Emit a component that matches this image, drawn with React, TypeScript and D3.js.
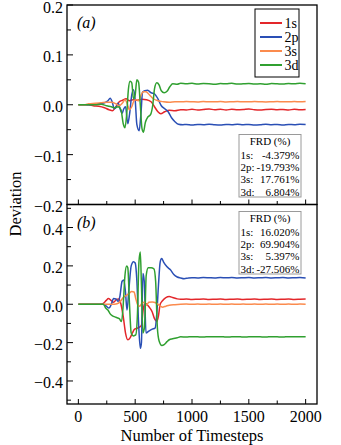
import React from "react";
import * as d3 from "d3";

type Pt = [number, number];

const orbitals = ["1s", "2p", "3s", "3d"];
const colors = ["#e3262a", "#2a4fb5", "#fb8b4e", "#30a030"];

const frdLabels = ["1s:", "2p:", "3s:", "3d:"];
const frdA = ["-4.379%", "-19.793%", "17.761%", "6.804%"];
const frdB = ["16.020%", "69.904%", "5.397%", "-27.506%"];

const xTicksMajor = [0, 500, 1000, 1500, 2000];
const xTicksMinor = [250, 750, 1250, 1750];
const yTicksA = [-0.2, -0.1, 0, 0.1, 0.2];
const yTicksAMinor = [-0.15, -0.05, 0.05, 0.15];
const yTicksB = [-0.4, -0.2, 0, 0.2, 0.4];
const yTicksBMinor = [-0.5, -0.3, -0.1, 0.1, 0.3, 0.5];

const a1s: Pt[] = [
  [0, 0], [90, 0], [130, -0.002], [180, -0.003], [230, -0.006], [270, -0.01], [300, -0.012], [330, -0.004], [360, 0.006], [390, 0.009], [420, 0.012], [450, 0.008], [480, 0.01], [520, 0.009], [560, 0.011], [600, 0.01], [640, 0.006], [670, -0.004], [700, -0.014], [725, -0.018], [760, -0.014], [800, -0.011], [850, -0.012], [900, -0.01],
  [950, -0.0105], [1000, -0.009], [1050, -0.0105], [1100, -0.0095], [1150, -0.0085], [1200, -0.01], [1250, -0.009], [1300, -0.0105], [1350, -0.009], [1400, -0.01], [1450, -0.0095], [1500, -0.0085], [1550, -0.01], [1600, -0.0105], [1650, -0.0095], [1700, -0.009], [1750, -0.01], [1800, -0.0095], [1850, -0.0105], [1900, -0.009], [1950, -0.01], [2000, -0.0095],
];
const a2p: Pt[] = [
  [0, 0], [90, 0], [130, 0.001], [180, 0.002], [230, 0.004], [260, 0.008], [280, 0.013], [300, 0.004], [315, -0.008], [335, -0.004], [350, 0.003], [370, -0.01], [385, -0.017], [400, -0.008], [415, -0.004], [435, -0.038], [450, -0.02], [470, 0.02], [485, 0.03], [500, 0.01], [515, -0.04], [535, -0.052], [550, -0.02], [565, 0.025], [585, 0.028], [610, 0.029], [640, 0.024], [670, 0.022], [700, 0.012], [730, -0.002], [760, -0.008], [790, -0.014], [820, -0.026], [850, -0.034], [880, -0.039], [920, -0.04],
  [950, -0.0395], [1000, -0.0405], [1050, -0.0395], [1100, -0.04], [1150, -0.039], [1200, -0.04], [1250, -0.0405], [1300, -0.0395], [1350, -0.04], [1400, -0.039], [1450, -0.04], [1500, -0.0395], [1550, -0.0405], [1600, -0.04], [1650, -0.039], [1700, -0.04], [1750, -0.0395], [1800, -0.0405], [1850, -0.0395], [1900, -0.04], [1950, -0.039], [2000, -0.0395],
];
const a3s: Pt[] = [
  [0, 0], [60, 0], [90, 0.002], [150, 0.003], [200, 0.004], [250, 0.005], [290, 0.005], [330, 0.002], [360, -0.002], [390, 0.004], [410, 0.01], [430, 0.002], [450, -0.01], [470, -0.004], [490, 0.008], [510, 0.01], [530, 0.008], [550, 0.018], [570, 0.026], [595, 0.026], [625, 0.02], [660, 0.012], [700, 0.008], [750, 0.006], [800, 0.005], [850, 0.006], [900, 0.006],
  [950, 0.0065], [1000, 0.006], [1050, 0.0055], [1100, 0.0065], [1150, 0.006], [1200, 0.006], [1250, 0.0065], [1300, 0.0055], [1350, 0.006], [1400, 0.0065], [1450, 0.006], [1500, 0.006], [1550, 0.0065], [1600, 0.006], [1650, 0.0055], [1700, 0.006], [1750, 0.0065], [1800, 0.006], [1850, 0.006], [1900, 0.0065], [1950, 0.006], [2000, 0.0065],
];
const a3d: Pt[] = [
  [0, 0], [90, 0], [150, 0], [200, 0.001], [250, -0.002], [290, -0.004], [320, -0.006], [350, -0.004], [375, -0.01], [395, -0.038], [410, -0.046], [425, -0.02], [440, 0.03], [455, 0.047], [470, 0.044], [485, 0.012], [500, 0.02], [515, 0.05], [530, 0.045], [545, 0], [560, -0.048], [572, -0.055], [590, -0.035], [610, -0.025], [635, -0.02], [655, 0], [670, 0.032], [690, 0.044], [710, 0.04], [730, 0.028], [755, 0.024], [780, 0.027], [805, 0.036], [830, 0.042], [870, 0.041], [900, 0.043],
  [950, 0.042], [1000, 0.043], [1050, 0.0415], [1100, 0.0425], [1150, 0.042], [1200, 0.041], [1250, 0.0425], [1300, 0.042], [1350, 0.043], [1400, 0.0415], [1450, 0.042], [1500, 0.0425], [1550, 0.0415], [1600, 0.042], [1650, 0.041], [1700, 0.0425], [1750, 0.042], [1800, 0.0415], [1850, 0.0425], [1900, 0.042], [1950, 0.043], [2000, 0.042],
];

const b1s: Pt[] = [
  [0, 0], [200, 0], [220, 0.005], [245, 0.02], [265, 0.03], [285, 0.022], [310, 0.01], [335, 0.025], [355, 0.028], [375, 0], [395, -0.065], [415, -0.15], [435, -0.185], [455, -0.175], [475, -0.15], [495, -0.13], [515, -0.125], [535, -0.12], [555, -0.11], [570, -0.03], [585, 0.005], [610, -0.005], [630, -0.02], [650, -0.04], [670, -0.075], [690, -0.09], [705, -0.06], [720, 0], [740, 0.018], [770, 0.035], [800, 0.04], [830, 0.035], [870, 0.028], [900, 0.026],
  [950, 0.027], [1000, 0.025], [1050, 0.026], [1100, 0.027], [1150, 0.025], [1200, 0.026], [1250, 0.027], [1300, 0.025], [1350, 0.026], [1400, 0.027], [1450, 0.025], [1500, 0.026], [1550, 0.027], [1600, 0.025], [1650, 0.026], [1700, 0.027], [1750, 0.025], [1800, 0.026], [1850, 0.027], [1900, 0.025], [1950, 0.026], [2000, 0.027],
];
const b2p: Pt[] = [
  [0, 0], [220, 0], [245, -0.01], [270, -0.02], [290, 0], [310, 0.03], [330, 0.028], [350, 0.015], [365, 0.04], [385, 0.12], [400, 0.127], [415, 0.06], [428, -0.03], [445, 0.08], [465, 0.2], [485, 0.222], [500, 0.215], [515, 0.12], [530, -0.1], [545, -0.23], [555, -0.2], [568, 0.16], [580, 0.12], [595, -0.15], [620, -0.14], [650, -0.13], [675, -0.125], [690, -0.05], [705, 0.1], [720, 0.22], [733, 0.238], [750, 0.22], [780, 0.195], [810, 0.18], [840, 0.155], [870, 0.142], [900, 0.137], [930, 0.133], [970, 0.137],
  [1000, 0.138], [1050, 0.137], [1100, 0.139], [1150, 0.138], [1200, 0.137], [1250, 0.139], [1300, 0.138], [1350, 0.139], [1400, 0.137], [1450, 0.138], [1500, 0.139], [1550, 0.137], [1600, 0.138], [1650, 0.139], [1700, 0.137], [1750, 0.138], [1800, 0.139], [1850, 0.137], [1900, 0.138], [1950, 0.139], [2000, 0.137],
];
const b3s: Pt[] = [
  [0, 0], [300, 0], [340, 0.003], [370, 0.015], [395, 0.035], [420, 0.045], [445, 0.055], [470, 0.066], [490, 0.064], [505, 0.03], [520, 0], [540, -0.01], [560, 0.005], [580, 0.01], [600, -0.005], [620, 0.01], [650, 0.012], [680, 0.008], [710, -0.005], [740, -0.015], [770, -0.01], [800, -0.005], [850, -0.002], [900, 0],
  [950, 0.001], [1000, 0], [1050, 0.001], [1100, 0], [1150, 0.001], [1200, 0], [1250, 0.001], [1300, 0], [1350, 0.001], [1400, 0], [1450, 0.001], [1500, 0], [1550, 0.001], [1600, 0], [1650, 0.001], [1700, 0], [1750, 0.001], [1800, 0], [1850, 0.001], [1900, 0], [1950, 0.001], [2000, 0],
];
const b3d: Pt[] = [
  [0, 0], [220, 0], [240, -0.02], [260, -0.03], [280, -0.05], [300, -0.06], [330, -0.068], [360, -0.075], [380, -0.09], [395, 0], [410, 0.15], [425, 0.2], [435, 0.19], [450, 0], [465, -0.15], [485, -0.165], [505, -0.16], [520, -0.05], [533, 0.22], [545, 0.272], [555, 0.1], [568, -0.15], [582, -0.12], [597, 0.15], [615, 0.19], [640, 0.19], [665, 0.185], [680, 0.12], [695, -0.12], [710, -0.19], [735, -0.215], [755, -0.21], [780, -0.195], [800, -0.185], [830, -0.18], [870, -0.175], [900, -0.17],
  [950, -0.171], [1000, -0.169], [1050, -0.17], [1100, -0.171], [1150, -0.169], [1200, -0.17], [1250, -0.169], [1300, -0.171], [1350, -0.17], [1400, -0.169], [1450, -0.171], [1500, -0.17], [1550, -0.169], [1600, -0.17], [1650, -0.171], [1700, -0.169], [1750, -0.17], [1800, -0.171], [1850, -0.169], [1900, -0.17], [1950, -0.169], [2000, -0.17],
];

const seriesA = [a1s, a2p, a3s, a3d];
const seriesB = [b1s, b2p, b3s, b3d];

const FONT = "'Liberation Serif', 'Times New Roman', serif";
const L = 67, R = 317;
const TOP_A = 5, MID = 204.5, BOT_B = 404;

const fmt = (v: number) => (Math.abs(v) < 1e-9 ? "0.0" : d3.format(".1f")(v));

function Panel(props: {
  top: number; bottom: number; domain: [number, number];
  major: number[]; minor: number[]; series: Pt[][]; label: string;
}) {
  const { top, bottom, domain, major, minor, series, label } = props;
  const x = d3.scaleLinear().domain([-100, 2100]).range([L, R]);
  const y = d3.scaleLinear().domain(domain).range([bottom, top]);
  const line = d3.line<Pt>().x((d) => x(d[0])).y((d) => y(d[1])).curve(d3.curveMonotoneX);
  const clipId = "clip" + label.replace(/[()]/g, "");
  return (
    <g>
      <defs>
        <clipPath id={clipId}>
          <rect x={L} y={top} width={R - L} height={bottom - top} />
        </clipPath>
      </defs>
      <g clipPath={`url(#${clipId})`}>
        {series.map((s, i) => (
          <path key={i} d={line(s) || ""} fill="none" stroke={colors[i]} strokeWidth={1.5} strokeLinejoin="round" />
        ))}
      </g>
      {major.map((v) => (
        <g key={"ym" + v}>
          <line x1={L} x2={L + 6} y1={y(v)} y2={y(v)} stroke="#000" strokeWidth={1} />
          <text x={L - 4} y={Math.max(y(v) + 2, 8)} dy="0.33em" textAnchor="end" fontSize={16} fontFamily={FONT}>{fmt(v)}</text>
        </g>
      ))}
      {minor.map((v) => (
        <line key={"yn" + v} x1={L} x2={L + 4} y1={y(v)} y2={y(v)} stroke="#000" strokeWidth={1} />
      ))}
      {xTicksMajor.map((v) => (
        <line key={"xm" + v} x1={x(v)} x2={x(v)} y1={bottom} y2={bottom - 5} stroke="#000" strokeWidth={1} />
      ))}
      {xTicksMinor.map((v) => (
        <line key={"xn" + v} x1={x(v)} x2={x(v)} y1={bottom} y2={bottom - 3.5} stroke="#000" strokeWidth={1} />
      ))}
      <rect x={L} y={top} width={R - L} height={bottom - top} fill="none" stroke="#000" strokeWidth={1.3} />
      <text x={77} y={top + 23} fontSize={16} fontStyle="italic" fontFamily={FONT}>{label}</text>
    </g>
  );
}

function FrdBox(props: { x: number; y: number; values: string[] }) {
  const { x, y, values } = props;
  const w = 62, h = 62.5;
  return (
    <g fontFamily={FONT} fontSize={11}>
      <rect x={x} y={y} width={w} height={h} fill="#fff" stroke="#9a9a9a" strokeWidth={1} />
      <text x={x + w / 2} y={y + 10} textAnchor="middle">FRD (%)</text>
      {frdLabels.map((lab, i) => (
        <g key={lab}>
          <text x={x + 1.5} y={y + 24 + i * 12.4}>{lab}</text>
          <text x={x + w - 1.5} y={y + 24 + i * 12.4} textAnchor="end">{values[i]}</text>
        </g>
      ))}
    </g>
  );
}

export default function App() {
  const x = d3.scaleLinear().domain([-100, 2100]).range([L, R]);
  return (
    <svg width={341} height={445} style={{ position: "absolute", left: 0, top: 0, background: "#fff" }}>
      <rect x={0} y={0} width={341} height={445} fill="#fff" />
      <Panel top={TOP_A} bottom={MID} domain={[-0.2, 0.2]} major={yTicksA} minor={yTicksAMinor} series={seriesA} label="(a)" />
      <Panel top={MID} bottom={BOT_B} domain={[-0.52, 0.52]} major={yTicksB} minor={yTicksBMinor} series={seriesB} label="(b)" />
      <g fontFamily={FONT} fontSize={14}>
        <rect x={255} y={9} width={44} height={68} fill="#fff" stroke="#000" strokeWidth={1} />
        {orbitals.map((o, i) => (
          <g key={o}>
            <line x1={260} x2={282} y1={23 + i * 14} y2={23 + i * 14} stroke={colors[i]} strokeWidth={2} />
            <text x={284.5} y={23 + i * 14} dy="0.33em">{o}</text>
          </g>
        ))}
      </g>
      <FrdBox x={239} y={134.5} values={frdA} />
      <FrdBox x={239} y={211.5} values={frdB} />
      {xTicksMajor.map((v) => (
        <text key={v} x={x(v)} y={422} textAnchor="middle" fontSize={16} fontFamily={FONT}>{v}</text>
      ))}
      <text x={192} y={441} textAnchor="middle" fontSize={16.5} fontFamily={FONT}>Number of Timesteps</text>
      <text transform="translate(21,204) rotate(-90)" textAnchor="middle" fontSize={16.5} fontFamily={FONT}>Deviation</text>
    </svg>
  );
}
